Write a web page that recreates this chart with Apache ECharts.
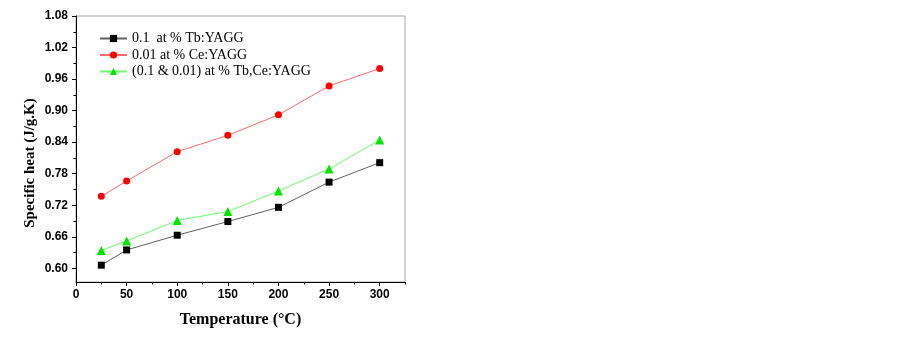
<!DOCTYPE html>
<html>
<head>
<meta charset="utf-8">
<script src="https://cdn.jsdelivr.net/npm/echarts@6/dist/echarts.min.js"></script>
<style>
html,body{margin:0;padding:0;background:#fff;}
#chart{width:902px;height:338px;}
</style>
</head>
<body>
<div id="chart"></div>
<script>
// Data
const temperatures = [25, 50, 100, 150, 200, 250, 300];
const seriesNames = ['0.1  at % Tb:YAGG', '0.01 at % Ce:YAGG', '(0.1 & 0.01) at % Tb,Ce:YAGG'];
const tbValues   = [0.606, 0.635, 0.663, 0.689, 0.716, 0.764, 0.801];
const ceValues   = [0.737, 0.766, 0.822, 0.853, 0.892, 0.947, 0.980];
const tbCeValues = [0.634, 0.652, 0.691, 0.708, 0.747, 0.789, 0.844];
const yMajorTicks = [0.60, 0.66, 0.72, 0.78, 0.84, 0.90, 0.96, 1.02, 1.08];
const yMinorTicks = [0.63, 0.69, 0.75, 0.81, 0.87, 0.93, 0.99, 1.05];
const xMajorTicks = [0, 50, 100, 150, 200, 250, 300];
const xMinorTicks = [25, 75, 125, 175, 225, 275, 325];

const pair = (xs, ys) => xs.map((x, i) => [x, ys[i]]);

const labelFont = {fontFamily: 'Liberation Sans', fontWeight: 'bold', fontSize: 12, color: '#000'};
const chart = echarts.init(document.getElementById('chart'), null, {renderer: 'canvas'});
chart.setOption({
  animation: false,
  backgroundColor: '#fff',
  grid: {left: 76, right: 497, top: 16, bottom: 56, show: true, borderColor: '#a8a8a8', borderWidth: 1, backgroundColor: 'transparent'},
  legend: {
    orient: 'vertical', left: 99, top: 31, padding: 0,
    itemWidth: 27, itemHeight: 9, itemGap: 1.5,
    textStyle: {fontFamily: 'Liberation Serif', fontSize: 14, color: '#000', lineHeight: 15},
    data: seriesNames
  },
  xAxis: [{
    type: 'value', min: 0, max: 325,
    name: 'Temperature (°C)', nameLocation: 'middle', nameGap: 30,
    nameTextStyle: {fontFamily: 'Liberation Serif', fontWeight: 'bold', fontSize: 16, color: '#000'},
    axisLine: {show: true, lineStyle: {color: '#000', width: 1}},
    axisTick: {show: true, inside: false, length: 4, customValues: xMajorTicks, lineStyle: {color: '#000'}},
    axisLabel: Object.assign({margin: 7, customValues: xMajorTicks}, labelFont),
    splitLine: {show: false}
  }, {
    type: 'value', min: 0, max: 325, position: 'bottom',
    axisLine: {show: false},
    axisTick: {show: true, inside: false, length: 2.5, customValues: xMinorTicks, lineStyle: {color: '#000'}},
    axisLabel: {show: false},
    splitLine: {show: false}
  }],
  yAxis: [{
    type: 'value', min: 0.574, max: 1.08,
    axisLine: {show: true, lineStyle: {color: '#000', width: 1}},
    axisTick: {show: true, inside: false, length: 4, customValues: yMajorTicks, lineStyle: {color: '#000'}},
    axisLabel: Object.assign({margin: 8, customValues: yMajorTicks, formatter: v => v.toFixed(2)}, labelFont),
    splitLine: {show: false}
  }, {
    type: 'value', min: 0.574, max: 1.08, position: 'left',
    axisLine: {show: false},
    axisTick: {show: true, inside: false, length: 2.5, customValues: yMinorTicks, lineStyle: {color: '#000'}},
    axisLabel: {show: false},
    splitLine: {show: false}
  }],
  graphic: [{
    type: 'text', x: 30, y: 163, rotation: Math.PI / 2,
    style: {text: 'Specific heat (J/g.K)', fontFamily: 'Liberation Serif', fontWeight: 'bold', fontSize: 15, fill: '#000', align: 'center', verticalAlign: 'middle'}
  }],
  series: [{
    name: seriesNames[0], type: 'line', data: pair(temperatures, tbValues),
    symbol: 'rect', symbolSize: 7, itemStyle: {color: '#000'},
    lineStyle: {color: '#606060', width: 1}
  }, {
    name: seriesNames[1], type: 'line', data: pair(temperatures, ceValues),
    symbol: 'circle', symbolSize: 7, itemStyle: {color: '#ff0000'},
    lineStyle: {color: '#ff6a6a', width: 1}
  }, {
    name: seriesNames[2], type: 'line', data: pair(temperatures, tbCeValues),
    symbol: 'triangle', symbolSize: 9, itemStyle: {color: '#00e600'},
    lineStyle: {color: '#6aff6a', width: 1}
  }]
});
</script>
</body>
</html>
